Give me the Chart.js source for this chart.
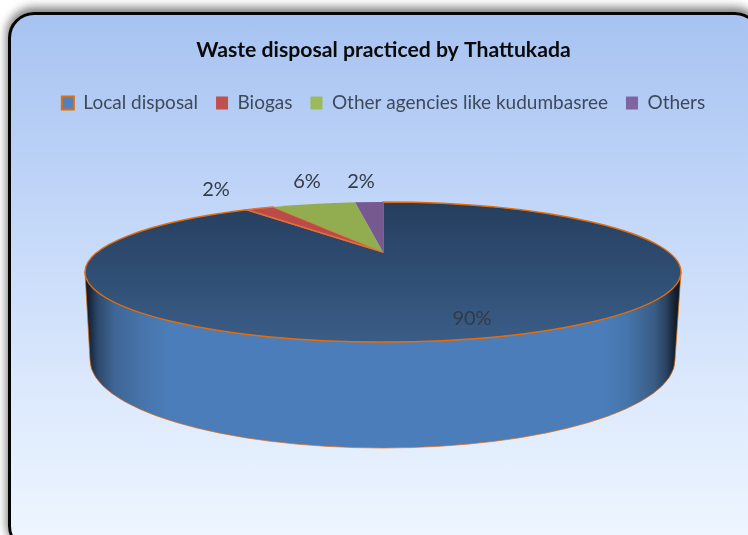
<!DOCTYPE html>
<html><head><meta charset="utf-8">
<style>
html,body{margin:0;padding:0;background:#fff;overflow:hidden;width:748px;height:535px}
#frame{position:absolute;left:8px;top:12px;width:753px;height:540px;box-sizing:border-box;border:3px solid #050505;border-radius:26px;
background:linear-gradient(#a7c3f1 0%,#bdd3f7 30%,#dce9fd 70%,#eff6ff 100%);box-shadow:0 -3px 8px 2px rgba(50,50,50,.6)}
canvas{position:absolute;left:0;top:0}
</style>
<script src="https://cdn.jsdelivr.net/npm/chart.js@4"></script>
</head><body><div id="frame"></div><canvas id="c" width="748" height="535"></canvas>
<script>
const categories=['Local disposal','Biogas','Other agencies like kudumbasree','Others'];
const values=[90,2,6,2];
const legendColors=['#4f81bd','#c0504d','#9bbb59','#8064a2'];
const topColors=[null,'#bb4b48','#92ad50','#76598f'];
const edgeColors=['#e46c0a','#e0703a','rgba(0,0,0,0)','rgba(0,0,0,0)'];
const chartTitle='Waste disposal practiced by Thattukada';

const disc={cx:383,cy:272,rx:298,ry:70,apexY:252,bx0:90,bx1:675,by:360,bry:88};
const squeeze=0.745;
const labelSpots=[[472,319],[216,190],[307,182],[361,182]];

function toScreen(trueAngle){
  const h=trueAngle/2;
  return 2*Math.atan2(squeeze*Math.sin(h),Math.cos(h));
}
const pie3d={
  id:'pie3d',
  beforeDatasetsDraw(chart){
    const ctx=chart.ctx,d=disc,meta=chart.getDatasetMeta(0);
    // side wall
    const side=ctx.createLinearGradient(d.cx-d.rx,0,d.cx+d.rx,0);
    [[0,'#0b1420'],[0.01,'#1a2c44'],[0.022,'#2e4a6d'],[0.05,'#3e6696'],[0.09,'#4672a8'],[0.14,'#4b7dba'],
     [0.87,'#4b7dba'],[0.91,'#4675ab'],[0.955,'#3a5c85'],[0.975,'#2a4361'],[0.99,'#14202f'],[1,'#0b1420']]
      .forEach(s=>side.addColorStop(s[0],s[1]));
    ctx.save();
    ctx.beginPath();
    ctx.ellipse(d.cx,d.cy,d.rx,d.ry,0,0,Math.PI);
    ctx.lineTo(d.bx0,d.by);
    const brx=(d.bx1-d.bx0)/2,bcx=(d.bx1+d.bx0)/2;
    ctx.ellipse(bcx,d.by,brx,d.bry,0,Math.PI,0,true);
    ctx.closePath();
    ctx.fillStyle=side;ctx.fill();
    ctx.lineWidth=1;ctx.strokeStyle='#e46c0a';ctx.globalAlpha=.7;ctx.stroke();ctx.globalAlpha=1;
    // top face, slices from the library's arc angles
    const topGrad=ctx.createLinearGradient(0,d.cy-d.ry,0,d.cy+d.ry);
    topGrad.addColorStop(0,'#253e5e');topGrad.addColorStop(1,'#3a5d87');
    meta.data.forEach((arc,i)=>{
      const a0=toScreen(arc.startAngle+Math.PI/2),a1=toScreen(arc.endAngle+Math.PI/2);
      ctx.beginPath();
      ctx.moveTo(d.cx,d.apexY);
      ctx.ellipse(d.cx,d.cy,d.rx,d.ry,0,a0-Math.PI/2,a1-Math.PI/2);
      ctx.closePath();
      ctx.fillStyle=topColors[i]||topGrad;ctx.fill();
      ctx.lineWidth=1.4;ctx.strokeStyle=arc.options.borderColor;ctx.stroke();
    });
    ctx.restore();
    return false;
  },
  afterDraw(chart){
    const ctx=chart.ctx;
    ctx.save();
    ctx.font='20px Lato';ctx.fillStyle='#333b47';ctx.textAlign='center';ctx.textBaseline='middle';
    const sum=values.reduce((a,b)=>a+b,0);
    values.forEach((v,i)=>ctx.fillText(Math.round(v/sum*100)+'%',labelSpots[i][0],labelSpots[i][1]));
    ctx.restore();
  }
};
new Chart(document.getElementById('c'),{
  type:'pie',
  data:{labels:categories,datasets:[{data:values,backgroundColor:legendColors,borderColor:edgeColors,borderWidth:1}]},
  plugins:[pie3d],
  options:{
    responsive:false,animation:false,rotation:0,
    layout:{padding:{top:22,left:19,right:0,bottom:60}},
    plugins:{
      title:{display:true,text:chartTitle,color:'#0a0a0a',font:{family:'Lato',size:21.2,weight:'bold'},padding:{top:15,bottom:13}},
      legend:{position:'top',labels:{color:'#3d4a5b',font:{family:'Lato',size:19},boxWidth:12,boxHeight:13,padding:18,
        generateLabels(chart){
          return Chart.overrides.pie.plugins.legend.labels.generateLabels(chart).map((l,i)=>({...l,lineWidth:i===0?2:0}));
        }}},
      tooltip:{enabled:false}
    }
  }
});
</script></body></html>
